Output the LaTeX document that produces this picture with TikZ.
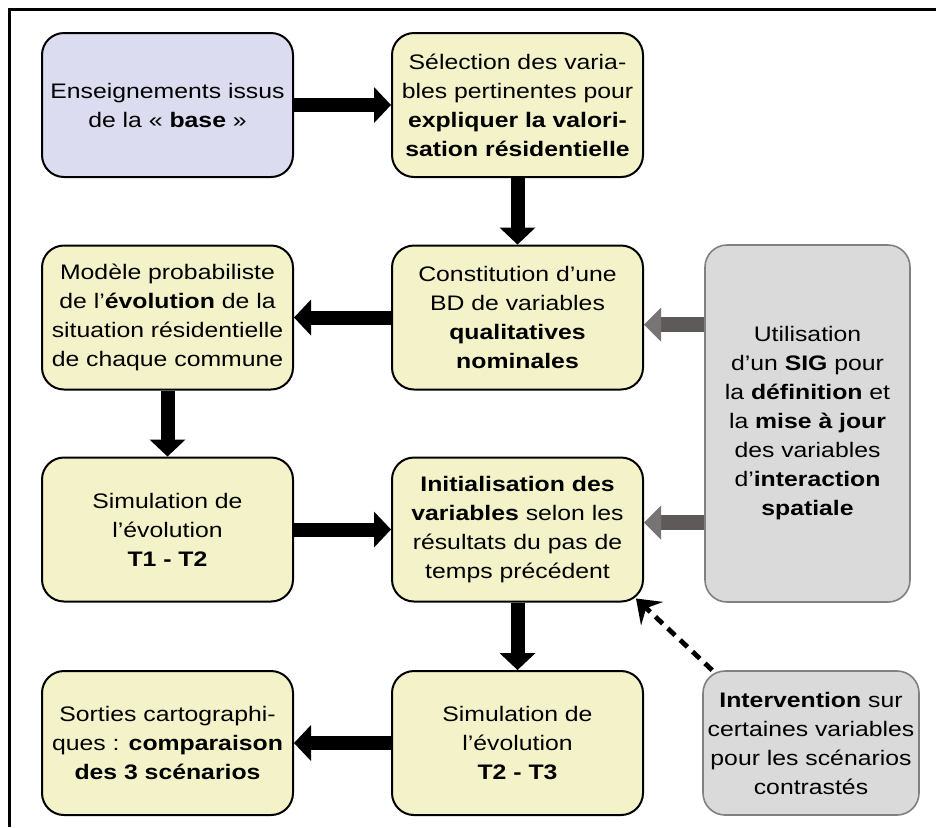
\documentclass[tikz,border=0pt]{standalone}
\usepackage{fontspec}
\setmainfont{Liberation Sans}[FakeStretch=1.18]
\usetikzlibrary{arrows.meta}
\definecolor{lavender}{HTML}{DCDCF0}
\definecolor{paleyellow}{HTML}{F4F2C9}
\definecolor{boxgray}{HTML}{DADADA}
\definecolor{edgegray}{HTML}{808080}
\definecolor{sigshaft}{HTML}{5E5A5A}
\definecolor{sighead}{HTML}{787474}
\tikzset{
  stage/.style={draw=black,line width=1pt,rounded corners=11pt,fill=paleyellow,
    minimum width=125.5pt,minimum height=72pt,align=center,inner sep=2pt},
  source/.style={stage,fill=lavender},
  tool/.style={draw=edgegray,line width=0.8pt,rounded corners=11pt,fill=boxgray,align=center,inner sep=2pt},
  flow/.style={line width=7pt,-{Triangle[length=8.5pt,width=18pt,line width=0pt]}},
  feed/.style={sigshaft,line width=7.5pt,-{Triangle[length=8.5pt,width=17pt,line width=0pt,fill=sighead]}},
  nudge/.style={line width=2.4pt,dash pattern=on 5pt off 3.5pt,-{Stealth[length=11pt,width=16pt,inset=4pt]}}
}

\begin{document}
\begin{tikzpicture}[x=0.5pt,y=-0.5pt,font=\fontsize{10.5}{14.5}\selectfont]
  \useasboundingbox (0,0) rectangle (936,827);
  \draw[line width=1.5pt] (9,827) -- (9,9) -- (936,9);

  \node[source] (base)      at (167.5,105)   {Enseignements issus\\de la « \textbf{base} »};
  \node[stage]  (selection) at (517.5,105)   {Sélection des varia-\\bles pertinentes pour\\\textbf{expliquer la valori-}\\\textbf{sation résidentielle}};
  \node[stage]  (bd)        at (517.5,317.5) {Constitution d’une\\BD de variables\\\textbf{qualitatives}\\\textbf{nominales}};
  \node[stage]  (modele)    at (167.5,317.5) {Modèle probabiliste\\de l’\textbf{évolution} de la\\situation résidentielle\\de chaque commune};
  \node[stage]  (simA)      at (167.5,529.5) {Simulation de\\l’évolution\\\textbf{T1 - T2}};
  \node[stage]  (init)      at (517.5,529.5) {\textbf{Initialisation des}\\\textbf{variables} selon les\\résultats du pas de\\temps précédent};
  \node[stage]  (simB)      at (517.5,743)   {Simulation de\\l’évolution\\\textbf{T2 - T3}};
  \node[stage]  (sorties)   at (167.5,743)   {Sorties cartographi-\\ques : \textbf{comparaison}\\\textbf{des 3 scénarios}};
  \node[tool,minimum width=102.5pt,minimum height=178.5pt] (sig) at (807.5,423.5)
    {Utilisation\\d’un \textbf{SIG} pour\\la \textbf{définition} et\\la \textbf{mise à jour}\\des variables\\d’\textbf{interaction}\\\textbf{spatiale}};
  \node[tool,minimum width=108pt,minimum height=72pt] (interv) at (811,743)
    {\textbf{Intervention} sur\\certaines variables\\pour les scénarios\\contrastés};

  \draw[flow] (base) -- (selection);
  \draw[flow] (selection) -- (bd);
  \draw[flow] (bd) -- (modele);
  \draw[flow] (modele) -- (simA);
  \draw[flow] (simA) -- (init);
  \draw[flow] (init) -- (simB);
  \draw[flow] (simB) -- (sorties);

  \coordinate (sigtop) at ([yshift=49.5pt]sig.west);
  \coordinate (sigbot) at ([yshift=-49.5pt]sig.west);
  \draw[feed] (sigtop) -- (sigtop -| bd.east);
  \draw[feed] (sigbot) -- (sigbot -| init.east);

  \coordinate (nudgestart) at ([xshift=5pt]interv.north west);
  \draw[nudge] (nudgestart) -- ([shift={(-4pt,2pt)}]init.south east);
\end{tikzpicture}
\end{document}
